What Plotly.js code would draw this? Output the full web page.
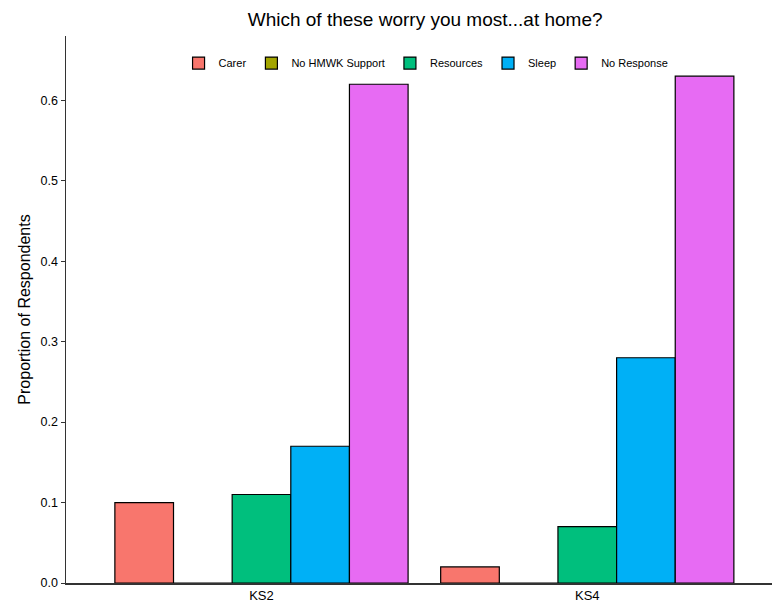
<!DOCTYPE html>
<html>
<head>
<meta charset="utf-8">
<script src="https://cdn.plot.ly/plotly-3.0.1.min.js"></script>
<style>html,body{margin:0;padding:0;background:#fff;}#chart{width:773px;height:605px;}</style>
</head>
<body>
<div id="chart"></div>
<script>
const stages = ["KS2", "KS4"];
const seriesNames = ["Carer", "No HMWK Support", "Resources", "Sleep", "No Response"];
const carer = [0.10, 0.02];
const noHmwkSupport = [0.0, 0.0];
const resources = [0.11, 0.07];
const sleep = [0.17, 0.28];
const noResponse = [0.62, 0.63];
const colors = ["#F8766D", "#A3A500", "#00BF7D", "#00B0F6", "#E76BF3"];
const values = [carer, noHmwkSupport, resources, sleep, noResponse];

const traces = seriesNames.map((name, i) => ({
  type: "bar",
  name: name,
  x: stages,
  y: values[i],
  marker: { color: colors[i], line: { color: "#000000", width: 1.2 } },
  hoverinfo: "x+y+name"
}));

const layout = {
  width: 773,
  height: 605,
  margin: { l: 66, r: 1, t: 36, b: 22 },
  paper_bgcolor: "#ffffff",
  plot_bgcolor: "#ffffff",
  font: { family: "Liberation Sans, Arial, sans-serif", color: "#000000", size: 11 },
  title: {
    text: "Which of these worry you most...at home?",
    font: { size: 19, color: "#000000" },
    x: 0.55, xanchor: "center", y: 0.968, yanchor: "middle"
  },
  barmode: "group",
  bargap: 0.1,
  bargroupgap: 0,
  showlegend: true,
  legend: {
    orientation: "h",
    x: 0.51, xanchor: "center",
    y: 0.977, yanchor: "top",
    font: { size: 11, color: "#000000" },
    bgcolor: "rgba(0,0,0,0)",
    itemwidth: 30,
    tracegroupgap: 0
  },
  xaxis: {
    type: "category",
    range: [-0.6, 1.567],
    showgrid: false,
    zeroline: false,
    showline: true,
    linecolor: "#333333",
    linewidth: 1.5,
    ticks: "",
    tickfont: { size: 13, color: "#000000" },
    fixedrange: true
  },
  yaxis: {
    range: [0, 0.68],
    tickvals: [0, 0.1, 0.2, 0.3, 0.4, 0.5, 0.6],
    ticktext: ["0.0", "0.1", "0.2", "0.3", "0.4", "0.5", "0.6"],
    showgrid: false,
    zeroline: false,
    showline: true,
    linecolor: "#333333",
    linewidth: 1.5,
    ticks: "outside",
    ticklen: 4,
    tickcolor: "#333333",
    tickfont: { size: 12.5, color: "#000000" },
    title: { text: "Proportion of Respondents", font: { size: 16, color: "#000000" }, standoff: 6 },
    fixedrange: true
  }
};

Plotly.newPlot("chart", traces, layout, { displayModeBar: false, staticPlot: true });
</script>
</body>
</html>
